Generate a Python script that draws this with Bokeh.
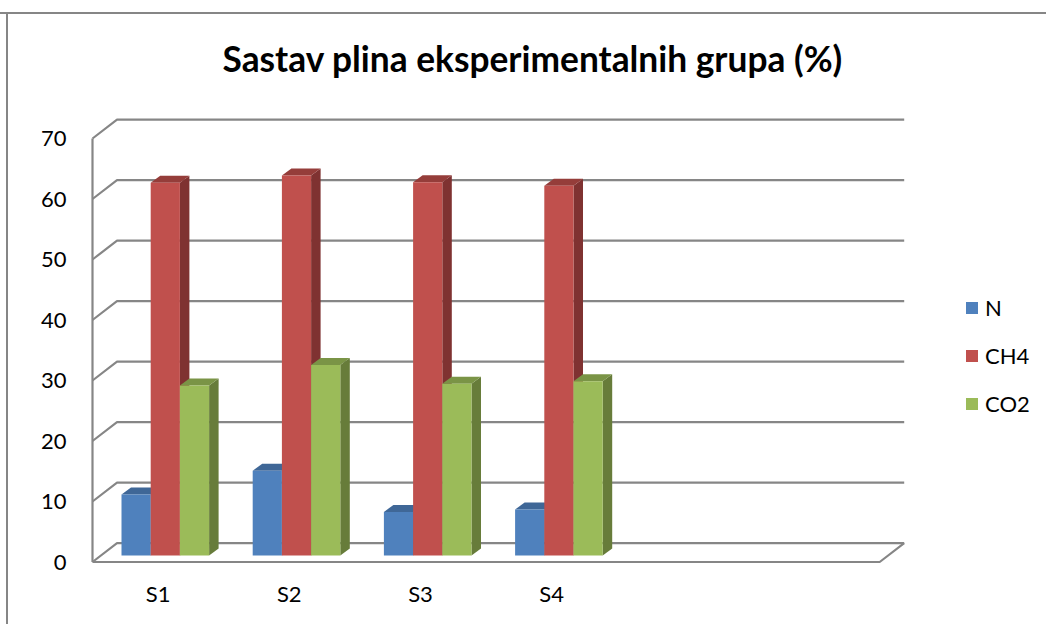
from bokeh.plotting import figure
from bokeh.models import Range1d, LinearAxis, FixedTicker, Legend, LegendItem, Title
from bokeh.embed import file_html
from bokeh.resources import INLINE

title_text = "Sastav plina eksperimentalnih grupa (%)"
categories = ["S1", "S2", "S3", "S4"]
n_slots = 6
y_ticks = [0, 10, 20, 30, 40, 50, 60, 70]
N = [10.1, 14.0, 7.2, 7.6]
CH4 = [61.6, 62.8, 61.7, 61.1]
CO2 = [28.1, 31.5, 28.4, 28.8]
series = [("N", N, "#4F81BD", "#3A6594", "#3F6797"),
          ("CH4", CH4, "#C0504D", "#7F3231", "#953D3A"),
          ("CO2", CO2, "#9BBB59", "#677C3A", "#7A9446")]

PX_X = 131.2      # pixels per category slot
PX_Y = 6.05       # pixels per percent
FONT = "Lato"
GRID = "#868686"

dx_wall, dy_wall = 24.5 / PX_X, 18.8 / PX_Y     # depth of the chart box
dx_bar, dy_bar = 9.5 / PX_X, 7.0 / PX_Y         # depth of a bar
bar_w = 29.2 / PX_X
bar_x0 = 29.0 / PX_X                            # first bar's left edge in a slot
bar_base = 6.5 / PX_Y                           # bars stand inside the floor

p = figure(width=1046, height=624, output_backend="svg", toolbar_location=None,
           x_range=Range1d(-5 / PX_X, 954 / PX_X),
           y_range=Range1d(-4.5 / PX_Y, 447.5 / PX_Y),
           min_border_left=87, min_border_right=0, min_border_top=114,
           min_border_bottom=58, x_axis_type=None, y_axis_type=None)
p.grid.visible = False
p.outline_line_color = None
p.background_fill_color = None
p.border_fill_color = None
# the chart's outer frame: top and left edges only, drawn behind the transparent canvas
p.styles = {"background-image": f"linear-gradient({GRID},{GRID}), linear-gradient({GRID},{GRID})",
            "background-size": "100% 2px, 2px 100%",
            "background-position": "0 12px, 6px 12px",
            "background-repeat": "no-repeat"}

# title
p.add_layout(Title(text=title_text, text_font=FONT, text_font_size="35.3px",
                   text_font_style="bold", text_color="black", align="left",
                   offset=135, standoff=69), "above")

# axes
ya = LinearAxis(ticker=FixedTicker(ticks=y_ticks), axis_line_color=None,
                major_tick_line_color=None, minor_tick_line_color=None,
                major_label_text_font=FONT, major_label_text_font_size="22px",
                major_label_text_color="black", major_label_standoff=15)
p.add_layout(ya, "left")
xa = LinearAxis(ticker=FixedTicker(ticks=[i + 0.5 for i in range(len(categories))]),
                major_label_overrides={i + 0.5: c for i, c in enumerate(categories)},
                axis_line_color=None, major_tick_line_color=None,
                minor_tick_line_color=None, major_label_text_font=FONT,
                major_label_text_font_size="22px", major_label_text_color="black",
                major_label_standoff=7)
p.add_layout(xa, "below")

# box: gridlines on the back wall, slanted steps on the side wall, floor
top, mx = max(y_ticks), float(n_slots)
xs, ys = [], []
for t in y_ticks:
    xs += [[0, dx_wall, mx + dx_wall]]
    ys += [[t, t + dy_wall, t + dy_wall]]
xs += [[0, 0], [0, mx, mx + dx_wall]]
ys += [[0, top], [0, 0, dy_wall]]
p.multi_line(xs, ys, line_color=GRID, line_width=2.2)

# bars, back faces first so that each bar overlaps its left neighbour
legend_items = []
for s, (name, vals, front, side, cap) in enumerate(series):
    l = [i + bar_x0 + s * bar_w for i in range(len(vals))]
    r = [a + bar_w for a in l]
    b = [bar_base] * len(vals)
    t = [bar_base + v for v in vals]
    p.patches([[x1, x1 + dx_bar, x1 + dx_bar, x1] for x1 in r],
              [[y0, y0 + dy_bar, y1 + dy_bar, y1] for y0, y1 in zip(b, t)],
              fill_color=side, line_color=None)
    p.patches([[x0, x0 + dx_bar, x1 + dx_bar, x1] for x0, x1 in zip(l, r)],
              [[y1, y1 + dy_bar, y1 + dy_bar, y1] for y1 in t],
              fill_color=cap, line_color=None)
    rr = p.quad(left=l, right=r, bottom=b, top=t, fill_color=front, line_color=None)
    legend_items.append(LegendItem(label=name, renderers=[rr]))

legend = Legend(items=legend_items, location=(877, 149), orientation="vertical",
                border_line_color=None, background_fill_alpha=0,
                label_text_font=FONT, label_text_font_size="22px",
                label_text_color="black", glyph_width=15, glyph_height=15,
                label_height=15, spacing=21, padding=0, margin=0,
                label_standoff=6)
p.add_layout(legend, "center")

open("out.html", "w").write(file_html(p, INLINE))
